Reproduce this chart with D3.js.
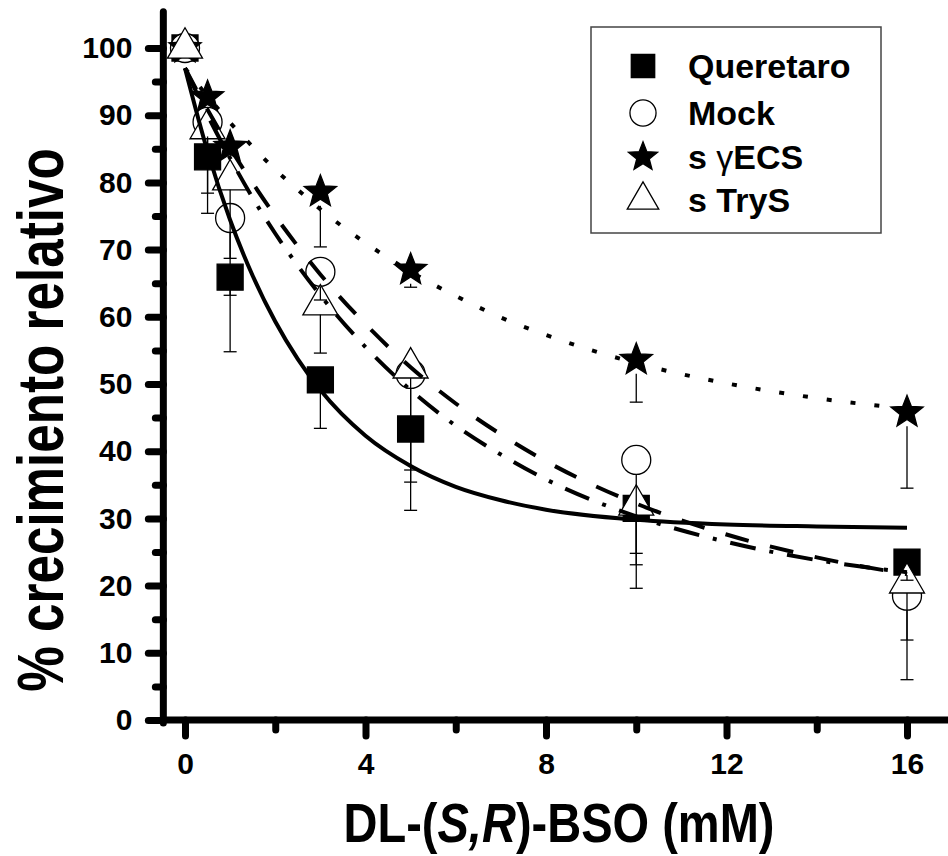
<!DOCTYPE html>
<html>
<head>
<meta charset="utf-8">
<script src="https://cdn.jsdelivr.net/npm/d3@7"></script>
<style>
  body { margin: 0; background: #fff; }
  svg { font-family: "Liberation Sans", Arial, sans-serif; font-weight: bold; }
</style>
</head>
<body>
<svg id="chart" width="948" height="856"></svg>
<script>
// BSO concentrations (mM)
const bso = [0, 0.5, 1, 3, 5, 10, 16];

// % relative growth per strain and the lower error bar sizes
const queretaro = [100, 83.8, 65.9, 50.6, 43.3, 31.5, 23.5];
const queretaroErr = [0, 8.4, 11.1, 7.2, 12.1, 8.4, 2.7];
const mock = [100, 89, 74.7, 66.7, 51.5, 38.7, 18.5];
const mockErr = [0, 10.6, 11.5, 4.2, 16.1, 19.1, 12.5];
const gecs = [100, 92.7, 85.3, 78.6, 67, 53.6, 45.8];
const gecsErr = [0, 2, 2, 8.2, 2.6, 6.3, 11.3];
const trys = [100, 88, 80.4, 61.8, 52.4, 32, 20.4];
const trysErr = [0, 3, 11.7, 7.2, 15.2, 7.2, 8.5];

// fitted decay curves
const fitX = [0, 0.5, 1, 1.5, 2, 2.5, 3, 4, 5, 6, 7, 8, 10, 12, 14, 16];
const fitQueretaro = [97, 84.6, 74.4, 66.1, 59.3, 53.7, 49.1, 42.3, 37.8, 34.7, 32.7, 31.3, 29.8, 29.1, 28.8, 28.6];
const fitMock = [97, 90.8, 85.1, 79.9, 75.0, 70.5, 66.3, 58.9, 52.5, 47.1, 42.5, 38.5, 32.2, 27.6, 24.2, 21.7];
const fitTrys = [97, 90.0, 83.6, 77.7, 72.4, 67.6, 63.2, 55.5, 49.1, 43.8, 39.5, 35.8, 30.3, 26.5, 23.8, 22.0];
const fitGecs = [97, 92.8, 88.9, 85.3, 81.9, 78.9, 76.0, 71.0, 66.7, 63.1, 59.9, 57.3, 53.1, 50.1, 47.9, 46.3];

// axis ticks
const xTicks = [0, 4, 8, 12, 16];
const xMinor = [2, 6, 10, 14];
const yTicks = [0, 10, 20, 30, 40, 50, 60, 70, 80, 90, 100];
const yMinor = [5, 15, 25, 35, 45, 55, 65, 75, 85, 95];

const x = d3.scaleLinear().domain([0, 16]).range([185, 907]);
const y = d3.scaleLinear().domain([0, 100]).range([720, 48]);

const svg = d3.select("#chart");

// symbol shapes, centred on 0,0
function starPath(R) {
  const pts = [];
  for (let i = 0; i < 10; i++) {
    const r = i % 2 === 0 ? R : R * 0.43;
    const a = -Math.PI / 2 + i * Math.PI / 5;
    pts.push([r * Math.cos(a), r * Math.sin(a)]);
  }
  return "M" + pts.map(p => p.join(",")).join("L") + "Z";
}
function trianglePath(s) {
  const h = s * Math.sqrt(3) / 2;
  return `M0,${-2 * h / 3}L${s / 2},${h / 3}L${-s / 2},${h / 3}Z`;
}
function symbolPath(shape, scale) {
  if (shape === "square") return d3.symbol(d3.symbolSquare, Math.pow(26 * scale, 2))();
  if (shape === "circle") return d3.symbol(d3.symbolCircle, Math.PI * Math.pow(14.5 * scale, 2))();
  if (shape === "star") return starPath(17 * scale);
  return trianglePath(35 * scale);
}

const series = [
  { name: "Queretaro", values: queretaro, err: queretaroErr, shape: "square", fill: "#000", gap: 13 },
  { name: "Mock", values: mock, err: mockErr, shape: "circle", fill: "#fff", gap: 14.5 },
  { name: "s γECS", values: gecs, err: gecsErr, shape: "star", fill: "#000", gap: 14 },
  { name: "s TryS", values: trys, err: trysErr, shape: "triangle", fill: "#fff", gap: 10 }
];

// axes
const yAxisX = x(-0.48);

const yMajor = svg.append("g")
  .attr("transform", `translate(${yAxisX},0)`)
  .call(d3.axisLeft(y).tickValues(yTicks).tickSize(15).tickPadding(16).tickFormat(d3.format("d")));
const yMin = svg.append("g")
  .attr("transform", `translate(${yAxisX},0)`)
  .call(d3.axisLeft(y).tickValues(yMinor).tickSize(8).tickFormat(""));
const xMajor = svg.append("g")
  .attr("transform", `translate(0,${y(0)})`)
  .call(d3.axisBottom(x).tickValues(xTicks).tickSize(16).tickPadding(17).tickFormat(d3.format("d")));
const xMin = svg.append("g")
  .attr("transform", `translate(0,${y(0)})`)
  .call(d3.axisBottom(x).tickValues(xMinor).tickSize(10).tickFormat(""));

[yMajor, yMin, xMajor, xMin].forEach(g => {
  g.select(".domain").remove();
  g.selectAll(".tick line")
    .style("stroke", "#000")
    .style("stroke-width", "7px")
    .style("stroke-linecap", "round");
  g.selectAll(".tick text")
    .attr("fill", "#000")
    .attr("font-size", 30)
    .attr("font-family", "Liberation Sans, Arial, sans-serif")
    .attr("font-weight", "bold");
});

svg.append("line")
  .attr("x1", yAxisX).attr("x2", yAxisX)
  .attr("y1", y(105.4)).attr("y2", y(0) + 3)
  .attr("stroke", "#000").attr("stroke-width", 7)
  .attr("stroke-linecap", "round");
svg.append("line")
  .attr("x1", yAxisX - 3).attr("x2", 952)
  .attr("y1", y(0)).attr("y2", y(0))
  .attr("stroke", "#000").attr("stroke-width", 7);

// data symbols
series.forEach(s => {
  svg.append("g")
    .selectAll("path")
    .data(s.values)
    .join("path")
      .attr("transform", (d, i) => `translate(${x(bso[i])},${y(d)})`)
      .attr("d", symbolPath(s.shape, 1))
      .attr("fill", s.fill)
      .attr("stroke", "#000")
      .attr("stroke-width", 1.3);
});

// lower error bars, starting at the symbol edge
series.forEach(s => {
  const bars = svg.append("g")
    .attr("stroke", "#000")
    .attr("stroke-width", 1.3);
  s.values.forEach((v, i) => {
    if (!s.err[i]) return;
    const cx = x(bso[i]);
    const lo = y(v - s.err[i]);
    const start = y(v) + s.gap;
    if (lo <= start) return;
    bars.append("line")
      .attr("x1", cx).attr("x2", cx)
      .attr("y1", start).attr("y2", lo);
    bars.append("line")
      .attr("x1", cx - 6.5).attr("x2", cx + 6.5)
      .attr("y1", lo).attr("y2", lo);
  });
});

// fitted curves
const fits = [
  { values: fitQueretaro, dash: null },
  { values: fitMock, dash: "24,22" },
  { values: fitTrys, dash: "26,14,4,14" },
  { values: fitGecs, dash: "5,19" }
];
const line = d3.line()
  .x((d, i) => x(fitX[i]))
  .y(d => y(d))
  .curve(d3.curveMonotoneX);

fits.forEach(f => {
  svg.append("path")
    .datum(f.values)
    .attr("d", line)
    .attr("fill", "none")
    .attr("stroke", "#000")
    .attr("stroke-width", 4)
    .attr("stroke-dasharray", f.dash);
});

// legend
svg.append("rect")
  .attr("x", 591).attr("y", 27)
  .attr("width", 290).attr("height", 206)
  .attr("fill", "none")
  .attr("stroke", "#444")
  .attr("stroke-width", 1.5);

const legendRows = [66, 113, 157, 200];
const legend = svg.append("g")
  .selectAll("g")
  .data(series)
  .join("g")
    .attr("transform", (d, i) => `translate(643,${legendRows[i]})`);

legend.append("path")
  .attr("d", d => symbolPath(d.shape, 0.9))
  .attr("fill", d => d.fill)
  .attr("stroke", "#000")
  .attr("stroke-width", 1.3);

legend.append("text")
  .attr("x", 45)
  .attr("y", 12)
  .attr("font-size", 34)
  .each(function(d) {
    const t = d3.select(this);
    if (d.name.includes("γ")) {
      t.append("tspan").text("s ");
      t.append("tspan").attr("font-weight", "normal").text("γ");
      t.append("tspan").text("ECS");
    } else {
      t.text(d.name);
    }
  });

// axis titles (the figure uses a narrowed face, so squeeze horizontally)
svg.append("text")
  .attr("transform", "translate(63,420) rotate(-90) scale(0.8,1)")
  .attr("text-anchor", "middle")
  .attr("font-size", 64)
  .text("% crecimiento relativo");

const xTitle = svg.append("text")
  .attr("transform", "translate(559,842) scale(0.84,1)")
  .attr("text-anchor", "middle")
  .attr("font-size", 56);
xTitle.append("tspan").text("DL-(");
xTitle.append("tspan").attr("font-style", "italic").text("S,R");
xTitle.append("tspan").text(")-BSO (mM)");
</script>
</body>
</html>
